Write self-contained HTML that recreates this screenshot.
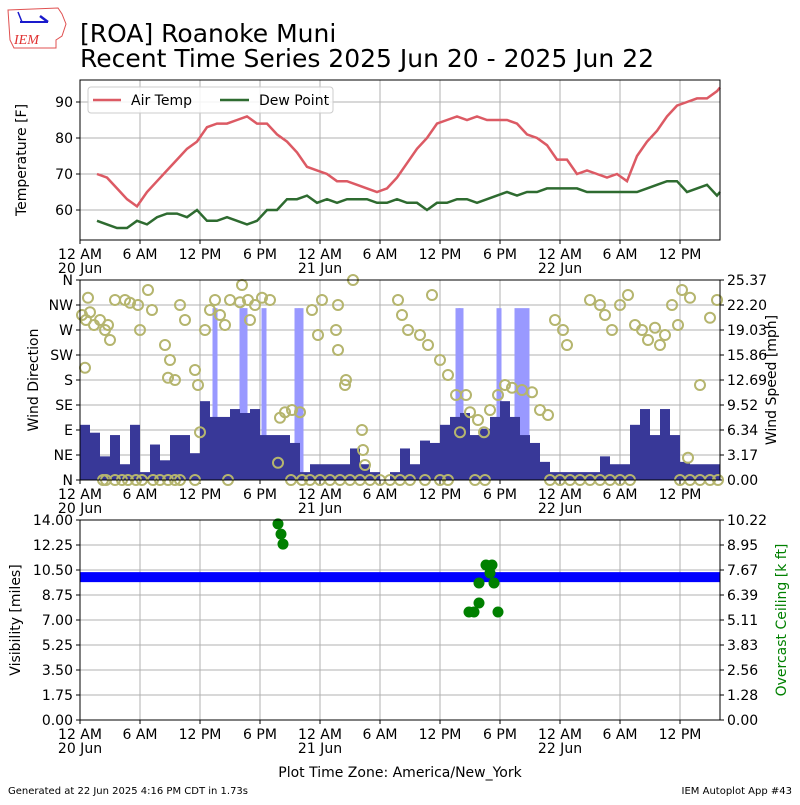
<!DOCTYPE html>
<html><head><meta charset="utf-8"><style>
body{margin:0;background:#fff}
svg text{font-family:"DejaVu Sans","Liberation Sans",sans-serif}
</style></head><body>
<svg id="chart" width="800" height="800" viewBox="0 0 800 800" xmlns="http://www.w3.org/2000/svg">
<rect width="800" height="800" fill="#fff"/>
<g>
<path d="M8,10 L58,8 L62,14 L66,24 L62,36 L56,40 L56,48 L14,48 L10,40 Z" fill="none" stroke="#e05050" stroke-width="1"/>
<line x1="20" y1="22" x2="48" y2="22" stroke="#1a1acc" stroke-width="2"/>
<line x1="18" y1="12" x2="22" y2="22" stroke="#1a1acc" stroke-width="1.5"/>
<line x1="40" y1="16" x2="48" y2="22" stroke="#1a1acc" stroke-width="2.5"/>
<text x="14" y="44" font-size="14" fill="#e03030" font-style="italic" style="font-family:'Liberation Serif',serif">IEM</text>
</g>
<text x="80" y="42" font-size="25">[ROA] Roanoke Muni</text>
<text x="80" y="67" font-size="25">Recent Time Series 2025 Jun 20 - 2025 Jun 22</text>
<g id="p1"></g>
<g id="p2"></g>
<g id="p3"></g>
<text x="400" y="777" font-size="14" text-anchor="middle">Plot Time Zone: America/New_York</text>
<text x="8" y="794" font-size="10">Generated at 22 Jun 2025 4:16 PM CDT in 1.73s</text>
<text x="792" y="794" font-size="10" text-anchor="end">IEM Autoplot App #43</text>
</svg>
<script>
// ---- data ----
const tempStart = 1.7;
const airTemp = [70,69,66,63,61,65,68,71,74,77,79,83,84,84,85,86,84,84,81,79,76,72,71,70,68,68,67,66,65,66,69,73,77,80,84,85,86,85,86,85,85,85,84,81,80,78,74,74,70,71,70,69,70,68,75,79,82,86,89,90,91,91,93];
const dewPoint = [57,56,55,55,57,56,58,59,59,58,60,57,57,58,57,56,57,60,60,63,63,64,62,63,62,63,63,63,62,62,63,62,62,60,62,62,63,63,62,63,64,65,64,65,65,66,66,66,66,65,65,65,65,65,65,66,67,68,68,65,66,67,64];
const lastAir = 94, lastDew = 65;
const windSpeed = [7,6,3,5.7,2,7,1,4.5,2.5,5.7,5.7,3.4,10,8,8,9,8.5,9,5.7,5.7,5.7,4.7,1,2,2,2,2,4,2,1,0,1,
 4,2,5,4.7,7,8,8.5,5.7,6.5,8,10,8,5.7,4.7,2.3,1,1,1,1,1,3,2,2,7,9,5.7,9,5.7,2.3,2,2,2];
const gustHours = [13.5,16.2,16.5,18.4,21.7,22.1,37.8,38.1,41.9,43.7,44.2,44.7];
const gustValues = [21.8,21.8,21.8,21.8,21.8,21.8,21.8,21.8,21.8,21.8,21.8,21.8];
const dirHours = [0.2,0.6,1,1.4,0.8,2,2.5,3,2.8,0.5,3.5,4.5,5,5.8,6,6.8,7.2,8.5,9,8.8,9.5,10,10.5,11.5,11.8,12.5,13,13.5,14,14.5,12,15,16,16.8,17.5,18.2,19,17,16.2,20,20.5,21.2,22,19.8,23.2,23.8,24.2,25.6,25.8,26.5,26.6,28.2,28.3,28.5,25.8,27.3,31.8,32.2,32.8,34,34.8,35.2,36,36.8,37.6,38,38.6,39,39.8,40.4,41,41.8,42.5,43.2,44.2,45.2,46,46.8,47.5,48.3,48.7,51,52,52.5,53.2,54,54.8,55.5,56.2,56.8,57.5,58,58.5,59.2,59.8,60.2,61,62,63,63.7,60.8];
const dirDeg = [297,288,302,279,328,288,270,252,279,202,324,324,319,315,270,342,306,243,216,184,180,315,288,198,171,270,306,324,297,279,86,324,320,324,315,328,324,288,351,112,122,126,122,31,306,261,324,270,234,171,180,90,54,27,315,360,324,297,270,261,243,333,216,189,153,86,153,122,108,86,126,153,171,166,162,158,126,117,288,270,243,324,315,297,270,315,333,279,270,252,274,243,261,315,279,342,328,171,292,324,40];
const calmHours = [2.3,2.6,3.5,4.2,4.8,5.6,6.2,7.3,8,8.8,9.5,10,11.5,14.8,21.1,22.2,23,24,25,26,27,28,29,30,31,32,33,34.5,36,36.8,39.5,40.5,47,48,49,50,51,52,53,54,55,60,61,62,63,63.8];
const visHours = [0,64];
const visValues = [10,10];
const ceilHours = [19.8,20.1,20.3,38.9,39.4,39.9,39.9,40.6,41.2,41.0,41.4,41.8];
const ceilValues = [10.02,9.5,8.99,5.52,5.52,5.98,7.0,7.92,7.92,7.51,7.0,5.52];
const xTickTop = ["12 AM","6 AM","12 PM","6 PM","12 AM","6 AM","12 PM","6 PM","12 AM","6 AM","12 PM"];
const xTickBot = ["20 Jun","","","","21 Jun","","","","22 Jun","",""];
const tempTicks = [60,70,80,90];
const dirLabels = ["N","NE","E","SE","S","SW","W","NW","N"];
const speedLabels = ["0.00","3.17","6.34","9.52","12.69","15.86","19.03","22.20","25.37"];
const visLabels = ["0.00","1.75","3.50","5.25","7.00","8.75","10.50","12.25","14.00"];
const ceilLabels = ["0.00","1.28","2.56","3.83","5.11","6.39","7.67","8.95","10.22"];

// ---- helpers ----
const NS="http://www.w3.org/2000/svg";
function mk(parent,tag,attrs){const e=document.createElementNS(NS,tag);for(const k in attrs)e.setAttribute(k,attrs[k]);parent.appendChild(e);return e;}
const X0=80,X1=720,HMAX=64;
const xs=h=>X0+(h/HMAX)*(X1-X0);
function frame(g,top,bot){
  for(let i=0;i<xTickTop.length;i++){const x=xs(i*6);
    const l=mk(g,'line',{x1:x,x2:x,y1:top,y2:bot,stroke:'#b0b0b0','stroke-width':1});
    
    const tk=mk(g,'line',{x1:x,x2:x,y1:bot,y2:bot+4,stroke:'#000'});
    
    const t=mk(g,'text',{x:x,y:bot+19,'font-size':14,'text-anchor':'middle'});t.textContent=xTickTop[i];
    
    if(xTickBot[i]){const t2=mk(g,'text',{x:x,y:bot+33,'font-size':14,'text-anchor':'middle'});t2.textContent=xTickBot[i];
      }
  }
}
function border(g,top,bot){const r=mk(g,'rect',{x:X0,y:top,width:X1-X0,height:bot-top,fill:'none',stroke:'#000','stroke-width':1});
  }
function yLabels(g,labels,top,bot,side,color){
  const n=labels.length-1;
  for(let i=0;i<=n;i++){const y=bot-(bot-top)*i/n;
    if(i>0&&i<n){const l=mk(g,'line',{x1:X0,x2:X1,y1:y,y2:y,stroke:'#b0b0b0'});}
    const xx=side==='left'?X0:X1;
    const tk=mk(g,'line',{x1:xx,x2:side==='left'?xx-4:xx+4,y1:y,y2:y,stroke:'#000'});
    
    const t=mk(g,'text',{x:side==='left'?X0-7:X1+7,y:y+5,'font-size':14,'text-anchor':side==='left'?'end':'start',fill:color||'#000'});
    t.textContent=labels[i];
  }
}
function ytitle(g,text,x,y,rot,color,name){const t=mk(g,'text',{x:x,y:y,'font-size':14,'text-anchor':'middle',fill:color||'#000',transform:`rotate(${rot} ${x} ${y})`});
  t.textContent=text;}

// ---- panel 1 ----
(function(){
  const g=document.getElementById('p1');const top=80,bot=240;
  const ty=v=>210-(v-60)*3.6;
  frame(g,top,bot);
  tempTicks.forEach(v=>{const y=ty(v);
    const l=mk(g,'line',{x1:X0,x2:X1,y1:y,y2:y,stroke:'#b0b0b0'});
    const tk=mk(g,'line',{x1:X0,x2:X0-4,y1:y,y2:y,stroke:'#000'});
    const t=mk(g,'text',{x:X0-7,y:y+5,'font-size':14,'text-anchor':'end'});t.textContent=v;});
  function line(arr,last,color,name){let pts=arr.map((v,i)=>xs(tempStart+i).toFixed(1)+','+ty(v).toFixed(1));pts.push(xs(HMAX)+','+ty(last));
    const p=mk(g,'polyline',{points:pts.join(' '),fill:'none',stroke:color,'stroke-width':2.5});}
  line(airTemp,lastAir,'#dc5a64','air-temp-line');
  line(dewPoint,lastDew,'#2e6b30','dew-point-line');
  border(g,top,bot);
  ytitle(g,'Temperature [F]',26,160,-90,null,'temperature-axis-title');
  const lg=mk(g,'g',{});
  mk(lg,'rect',{x:88,y:87,width:245,height:26,rx:3,fill:'#fff','fill-opacity':0.85,stroke:'#ccc'});
  const e1=mk(lg,'line',{x1:93,x2:121,y1:100,y2:100,stroke:'#dc5a64','stroke-width':2.5});
  const t1=mk(lg,'text',{x:131,y:105,'font-size':14});t1.textContent='Air Temp';
  const e2=mk(lg,'line',{x1:220,x2:249,y1:100,y2:100,stroke:'#2e6b30','stroke-width':2.5});
  const t2=mk(lg,'text',{x:259,y:105,'font-size':14});t2.textContent='Dew Point';
})();

// ---- panel 2 ----
(function(){
  const g=document.getElementById('p2');const top=280,bot=480;
  const sy=v=>bot-v/25.37*(bot-top);
  const dy=d=>bot-d/360*(bot-top);
  frame(g,top,bot);
  yLabels(g,dirLabels,top,bot,'left');
  yLabels(g,speedLabels,top,bot,'right');
  gustHours.forEach((h,i)=>{const r=mk(g,'rect',{x:xs(h)-2.5,y:sy(gustValues[i]),width:5,height:bot-sy(gustValues[i]),fill:'#9999ff'});
    });
  windSpeed.forEach((v,i)=>{if(v<=0)return;const r=mk(g,'rect',{x:xs(i),y:sy(v),width:xs(1)-xs(0),height:bot-sy(v),fill:'#383898'});
    });
  dirHours.forEach((h,i)=>{const c=mk(g,'circle',{cx:xs(h),cy:dy(dirDeg[i]),r:5,fill:'none',stroke:'#b5b56e','stroke-width':2});
    });
  calmHours.forEach(h=>{const c=mk(g,'circle',{cx:xs(h),cy:dy(0),r:5,fill:'none',stroke:'#b5b56e','stroke-width':2});
    });
  border(g,top,bot);
  ytitle(g,'Wind Direction',38,380,-90,null,'wind-direction-axis-title');
  ytitle(g,'Wind Speed [mph]',776,380,-90,null,'wind-speed-axis-title');
})();

// ---- panel 3 ----
(function(){
  const g=document.getElementById('p3');const top=520,bot=720;
  const vy=v=>bot-v/14*(bot-top);
  const cy=v=>bot-v/10.22*(bot-top);
  frame(g,top,bot);
  yLabels(g,visLabels,top,bot,'left');
  yLabels(g,ceilLabels,top,bot,'right');
  const p=mk(g,'polyline',{points:visHours.map((h,i)=>xs(h)+','+vy(visValues[i])).join(' '),fill:'none',stroke:'#0000ff','stroke-width':10});
  
  ceilHours.forEach((h,i)=>{const c=mk(g,'circle',{cx:xs(h),cy:cy(ceilValues[i]),r:5.5,fill:'#008000'});
    });
  border(g,top,bot);
  ytitle(g,'Visibility [miles]',20,620,-90,null,'visibility-axis-title');
  ytitle(g,'Overcast Ceiling [k ft]',786,620,-90,'#008000','ceiling-axis-title');
})();
</script>
</body></html>
